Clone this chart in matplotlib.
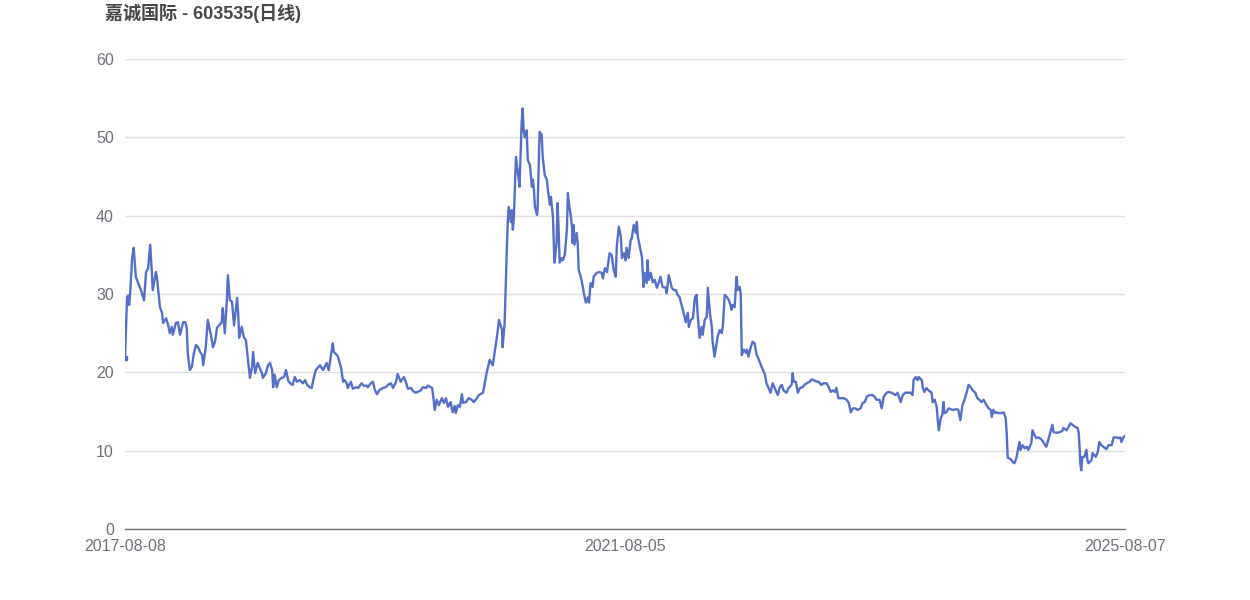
import matplotlib
matplotlib.use('Agg')
import matplotlib.pyplot as plt

# trading-day index (0 = 2017-08-08, 1944 = 2025-08-07) and close price
day_idx = [
    0, 4, 6, 8, 10, 14, 17, 21, 25, 31, 35, 37, 41, 45, 49, 52, 54, 60, 62, 68,
    72, 74, 80, 84, 87, 91, 93, 99, 103, 107, 113, 117, 120, 122, 126, 130, 134, 138, 142, 146,
    150, 152, 157, 161, 165, 169, 171, 175, 179, 183, 188, 190, 194, 198, 200, 204, 208, 212, 218, 220,
    222, 227, 231, 235, 239, 243, 247, 249, 253, 256, 258, 266, 268, 274, 278, 282, 286, 288, 291, 295,
    299, 305, 309, 313, 317, 321, 326, 330, 334, 340, 346, 350, 354, 359, 363, 367, 371, 375,
    379, 385, 392, 396, 404, 406, 412, 414, 420, 424, 427, 431, 433, 439, 443, 449, 453, 460, 464, 470,
    472, 478, 482, 486, 490, 494, 501, 507, 511, 517, 521, 527, 530, 536, 542, 546, 550, 556, 560, 565,
    569, 575, 579, 585, 589, 597, 600, 602, 606, 610, 616, 620, 624, 628, 633, 637, 641, 643, 647, 651,
    655, 657, 663, 668, 674, 678, 684, 688,
    696, 703, 709, 715, 723, 727, 733, 734, 738, 742, 744, 746, 750, 752, 754, 756, 760, 764, 767, 771,
    773, 775, 777, 781, 783, 787, 791, 793, 795, 797, 801, 802, 806, 810, 812, 816, 820, 822, 826, 828,
    832, 834, 835, 839, 841, 843, 845, 849, 851, 855, 859, 861, 863, 867, 869, 870, 872, 874, 878, 880,
    882, 886, 890, 892, 896, 900, 902, 905, 909, 911, 917, 921, 927, 929, 933, 937,
    942, 946, 950, 954, 956, 960, 964, 966, 970, 973, 975, 979, 983, 985, 989, 993, 995, 997, 1001, 1005,
    1006, 1008, 1010, 1014, 1016, 1018, 1022, 1026, 1030, 1034, 1038, 1041, 1045, 1051, 1053, 1057, 1063, 1067, 1071, 1074,
    1078, 1082, 1086, 1090, 1094, 1096, 1100, 1104, 1108, 1111, 1113, 1117, 1121, 1123, 1127, 1131, 1133, 1137, 1141, 1142,
    1146, 1150, 1152, 1156, 1160, 1162, 1166, 1170, 1174, 1177, 1179, 1181, 1185, 1189, 1191, 1195, 1197, 1199, 1203, 1207,
    1209, 1212, 1216, 1220, 1224, 1228, 1230,
    1234, 1240, 1244, 1247, 1251, 1255, 1259, 1265, 1269, 1273, 1277, 1280, 1286, 1290, 1296, 1298, 1300, 1304, 1308, 1312,
    1317, 1321, 1325, 1331, 1335, 1339, 1345, 1348, 1354, 1358, 1364, 1368, 1372, 1376, 1380, 1383, 1387, 1393, 1397, 1403,
    1407, 1411, 1415, 1420, 1424, 1430, 1434, 1438, 1442, 1448, 1453, 1457, 1461, 1467, 1471, 1475, 1481, 1484, 1490, 1498,
    1502, 1508, 1512, 1517, 1521, 1527, 1531, 1533, 1537, 1541, 1543, 1549, 1551, 1554, 1558, 1562, 1568, 1570, 1574, 1578,
    1580, 1582, 1586, 1589, 1591, 1593, 1597, 1601,
    1609, 1617, 1620, 1624, 1628, 1632, 1636, 1640, 1644, 1648, 1653, 1657, 1661, 1665, 1669, 1675, 1679, 1683, 1685, 1688,
    1692, 1694, 1698, 1704, 1708, 1712, 1714, 1716, 1722, 1725, 1729, 1733, 1735, 1739, 1741, 1745, 1749, 1753, 1756, 1762,
    1764, 1768, 1772, 1776, 1782, 1786, 1791, 1795, 1799, 1803, 1805, 1809, 1813, 1819, 1823, 1824, 1830, 1834, 1838, 1842,
    1848, 1852, 1854, 1856, 1857, 1859, 1861, 1865, 1869, 1871, 1873, 1879, 1881, 1887, 1891, 1894, 1898, 1902, 1908, 1912,
    1918, 1922, 1927, 1931, 1935, 1937, 1941, 1944,
]
price = [
    21.8, 29.6, 29.8, 28.6, 30.1, 34.7, 35.9, 32.2, 31.5, 30.5, 29.6, 29.2, 32.8, 33.3, 36.3, 33.0, 30.5, 32.8, 32.2, 28.3,
    27.6, 26.3, 26.9, 26.0, 25.0, 25.8, 24.8, 26.3, 26.4, 24.8, 26.4, 26.4, 25.7, 22.5, 20.3, 20.7, 22.5, 23.5, 23.2, 22.6,
    22.2, 20.9, 23.2, 26.7, 25.4, 24.1, 23.2, 23.9, 25.7, 26.0, 26.4, 28.2, 25.0, 29.2, 32.4, 29.2, 29.0, 26.0, 29.5, 27.6,
    24.4, 25.8, 24.5, 24.1, 21.6, 19.3, 20.7, 22.6, 19.9, 20.7, 21.2, 19.9, 19.3, 19.9, 20.9, 21.2, 20.3, 18.1, 19.7, 18.1,
    19.0, 19.3, 19.4, 20.3, 19.0, 18.6, 18.4, 19.4, 18.8, 19.0, 18.6, 19.0, 18.4, 18.1, 18.0, 19.3, 20.3, 20.6,
    20.9, 20.3, 21.2, 20.3, 23.7, 22.6, 22.2, 22.0, 20.6, 18.8, 19.0, 18.6, 18.0, 18.8, 17.9, 18.1, 18.0, 18.6, 18.3, 18.3,
    18.1, 18.6, 18.8, 17.7, 17.2, 17.7, 18.0, 18.1, 18.4, 18.6, 18.0, 18.8, 19.8, 18.8, 19.4, 18.8, 17.9, 18.0, 17.6, 17.4,
    17.5, 17.7, 18.1, 18.0, 18.3, 18.0, 16.5, 15.2, 16.5, 15.8, 16.7, 16.1, 16.7, 15.6, 16.2, 14.9, 15.7, 14.8, 15.8, 15.6,
    17.2, 16.1, 16.2, 16.7, 16.5, 16.2, 16.7, 17.1,
    17.4, 19.9, 21.6, 20.9, 24.5, 26.7, 25.4, 23.2, 26.3, 35.2, 39.1, 41.1, 39.2, 40.7, 38.2, 39.8, 47.5, 45.4, 43.7, 51.8,
    53.7, 50.9, 50.0, 50.9, 47.1, 46.5, 43.7, 44.6, 43.3, 41.1, 40.1, 40.7, 50.7, 50.3, 47.5, 45.2, 44.6, 43.3, 41.4, 42.4,
    39.8, 35.6, 34.0, 36.5, 41.6, 38.2, 34.0, 34.6, 34.3, 35.0, 38.2, 42.9, 41.6, 39.8, 38.6, 36.5, 38.8, 36.3, 37.8, 36.5,
    33.1, 32.2, 30.9, 30.1, 28.9, 29.6, 28.9, 31.4, 30.9, 32.2, 32.7, 32.8, 32.7, 32.0, 33.3, 32.8,
    35.2, 35.0, 33.1, 32.2, 36.0, 38.6, 37.3, 34.6, 35.2, 34.3, 35.9, 34.6, 36.9, 37.1, 38.8, 37.8, 39.2, 37.3, 36.0, 34.7,
    33.4, 30.9, 32.7, 31.4, 34.3, 31.8, 32.7, 31.5, 31.8, 30.8, 31.5, 32.2, 30.9, 30.8, 30.1, 32.4, 30.8, 30.5, 30.5, 29.9,
    29.6, 28.6, 27.6, 26.4, 27.6, 25.8, 26.7, 26.9, 29.6, 29.9, 27.6, 24.4, 25.8, 24.8, 26.7, 27.1, 30.8, 27.6, 25.7, 24.1,
    22.0, 23.7, 24.5, 25.4, 25.0, 25.8, 29.9, 29.6, 29.2, 28.6, 28.0, 28.6, 28.3, 32.2, 30.5, 30.9, 29.9, 22.2, 22.9, 22.5,
    22.9, 22.0, 23.1, 23.9, 23.7, 22.2, 22.0,
    21.3, 20.3, 19.7, 18.6, 18.0, 17.4, 18.6, 17.7, 17.1, 18.1, 18.4, 17.7, 17.4, 18.0, 18.4, 19.9, 18.8, 18.8, 17.4, 18.0,
    18.1, 18.4, 18.6, 18.8, 19.1, 19.0, 18.8, 18.8, 18.4, 18.6, 18.6, 18.1, 17.5, 17.7, 17.5, 18.0, 16.7, 16.7, 16.7, 16.5,
    16.1, 14.9, 15.4, 15.4, 15.2, 15.4, 16.1, 16.2, 16.9, 17.1, 17.1, 16.9, 16.5, 16.5, 15.4, 16.9, 17.4, 17.5, 17.4, 17.1,
    17.4, 16.2, 17.1, 17.4, 17.4, 17.4, 17.1, 19.0, 19.4, 19.0, 19.4, 19.0, 18.0, 17.5, 18.0, 17.7, 17.4, 16.2, 16.5, 15.6,
    13.9, 12.6, 14.2, 14.6, 16.2, 14.8, 14.9, 15.4,
    15.2, 15.3, 15.2, 13.9, 15.8, 16.5, 17.4, 18.4, 18.1, 17.7, 17.4, 16.7, 16.5, 16.2, 16.5, 15.8, 15.4, 15.2, 14.3, 15.2,
    14.8, 14.9, 14.8, 14.8, 14.9, 14.2, 12.3, 9.1, 8.9, 8.6, 8.4, 9.1, 9.8, 11.1, 10.1, 10.7, 10.3, 10.5, 10.1, 11.0,
    12.6, 12.0, 11.6, 11.7, 11.4, 11.0, 10.5, 11.4, 12.4, 13.3, 12.4, 12.3, 12.3, 12.4, 12.6, 12.9, 12.6, 13.0, 13.5, 13.3,
    13.0, 12.9, 12.3, 10.1, 8.4, 7.5, 9.2, 9.2, 10.1, 8.8, 8.4, 8.8, 9.7, 9.2, 9.8, 11.1, 10.7, 10.5, 10.2, 10.7,
    10.7, 11.7, 11.7, 11.6, 11.7, 11.1, 11.7, 11.9,
]

tick_pos = [0, 972, 1944]
tick_labels = ['2017-08-08', '2021-08-05', '2025-08-07']
y_ticks = [0, 10, 20, 30, 40, 50, 60]

title = '嘉诚国际 - 603535(日线)'

plt.rcParams['font.family'] = ['Liberation Sans', 'Noto Sans CJK SC', 'DejaVu Sans']

fig = plt.figure(figsize=(12.5, 6), dpi=100)
ax = fig.add_axes([0.1, 1 - 529 / 600, 0.8, 470 / 600])

ax.plot(day_idx, price, color='#5470c6', linewidth=1.7, solid_joinstyle='round')
ax.plot(day_idx[0], price[0], marker='s', markersize=3, color='#5470c6')

ax.set_xlim(0, 1944)
ax.set_ylim(0, 60)
ax.set_yticks(y_ticks)
ax.set_xticks(tick_pos)
ax.set_xticklabels(tick_labels)
ax.grid(axis='y', color='#e0e0e0', linewidth=1)
ax.set_axisbelow(True)

for s in ['top', 'right', 'left']:
    ax.spines[s].set_visible(False)
ax.spines['bottom'].set_color('#6e7079')
ax.spines['bottom'].set_linewidth(1)

ax.tick_params(axis='both', length=0, labelsize=11.5, labelcolor='#6e7079')
ax.tick_params(axis='y', pad=8)
ax.tick_params(axis='x', pad=7)

fig.text(105 / 1250, 1 - 13 / 600, title, fontsize=13, fontweight='bold',
         color='#464646', ha='left', va='center')

fig.savefig('out.png', dpi=100)
